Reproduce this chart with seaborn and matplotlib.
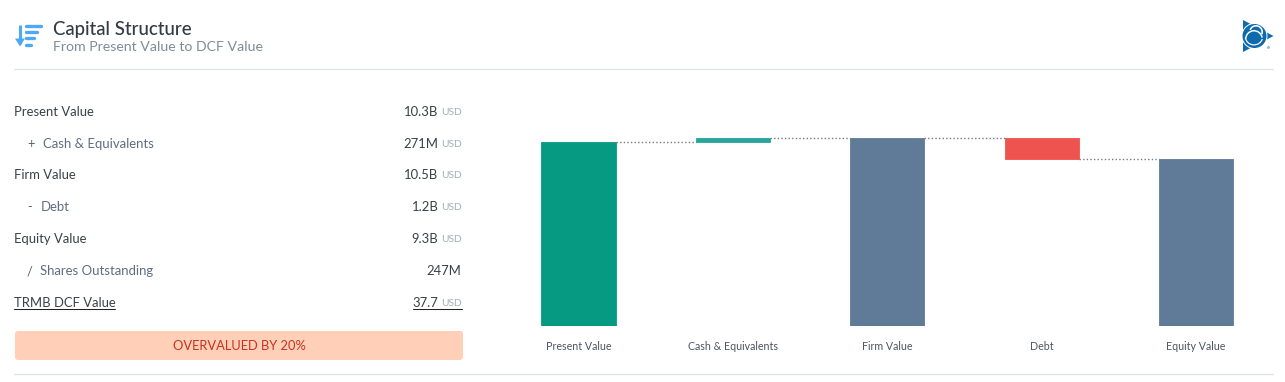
import numpy as np
import pandas as pd
import matplotlib
matplotlib.use('Agg')
import matplotlib.pyplot as plt
import seaborn as sns
from matplotlib.patches import FancyBboxPatch, Polygon, Circle, Wedge

# ==========================================
# DATA
# ==========================================
categories = ['Present Value', 'Cash & Equivalents', 'Firm Value', 'Debt', 'Equity Value']
bar_heights = [10.23, 0.27, 10.5, 1.2, 9.3]
bar_bottoms = [0, 10.23, 0, 9.3, 0]
bar_colors = ['#079A82', '#26A69A', '#607B98', '#EF5350', '#607B98']

row_labels = ['Present Value', 'Cash & Equivalents', 'Firm Value', 'Debt',
              'Equity Value', 'Shares Outstanding', 'TRMB DCF Value']
row_signs = ['', '+', '', '-', '', '/', '']
row_values = ['10.3B', '271M', '10.5B', '1.2B', '9.3B', '247M', '37.7']
row_units = ['USD', 'USD', 'USD', 'USD', 'USD', '', 'USD']

sns.set_theme(style='white')
plt.rcParams['font.family'] = ['Lato', 'DejaVu Sans']

W, H = 1285, 382
fig = plt.figure(figsize=(W / 100, H / 100), dpi=100, facecolor='white')

# panel in pixel coordinates
bg = fig.add_axes([0, 0, 1, 1])
bg.set_xlim(0, W)
bg.set_ylim(H, 0)
bg.axis('off')


def px(size):
    return size * 72 / 100


# header
bg.plot([14, 1273], [68.5, 68.5], color='#DFE1E3', lw=0.9)
bg.plot([14, 1273], [373.5, 373.5], color='#DFE1E3', lw=0.9)
bg.text(53, 29, 'Capital Structure', fontsize=px(18.6), color='#323A45', va='center', fontweight='medium')
bg.text(53, 47, 'From Present Value to DCF Value', fontsize=px(14.15), color='#7F8C99', va='center')

# sort icon
icon = '#4EA8F2'
bg.plot([20, 20], [25, 44], color=icon, lw=2.2, solid_capstyle='butt')
bg.add_patch(Polygon([[15, 38.5], [25, 38.5], [20, 46.5]], color=icon, lw=0))
for x0, x1, y in [(26, 40.5, 26), (26, 37, 32), (26, 33.5, 38), (26, 30.5, 44.5)]:
    bg.plot([x0, x1], [y, y], color=icon, lw=2.4, solid_capstyle='round')

# logo
logo = '#0D6AAD'
bg.add_patch(Polygon([[1243, 20], [1243, 52], [1273.5, 36]], color=logo, lw=0))
bg.add_patch(Circle((1254.5, 36), 13, color='white', lw=0, zorder=2))
bg.add_patch(Circle((1254.5, 36), 12, color=logo, lw=0, zorder=3))
bg.add_patch(Wedge((1256, 32), 7, 200, 20, width=1.6, color='white', lw=0, zorder=4))
bg.add_patch(Wedge((1254, 39), 9, 180, 350, width=1.5, color='white', lw=0, zorder=4))
bg.add_patch(Wedge((1254, 36), 9.5, 20, 170, width=1.2, color='white', lw=0, zorder=4))
bg.add_patch(Circle((1268.5, 47.5), 1.4, color='#8FB4D4', lw=0))

# table
row_y = [112, 144, 175, 207, 239, 271, 303]
for y, label, sign, value, unit in zip(row_y, row_labels, row_signs, row_values, row_units):
    sub = sign != ''
    if sub:
        bg.text(27, y, sign, fontsize=px(12.7), color='#55606C', va='center')
    label_x = 43 if sign == '+' else 40.5 if sign else 14
    bg.text(label_x, y, label, fontsize=px(13.1 if sub else 13.0), color='#5E6E80' if sub else '#3A4048', va='center')
    if unit:
        bg.text(461.5, y + 0.7, unit, fontsize=px(10.2), color='#A2ADBB', va='center', ha='right')
        bg.text(438.5, y, value, fontsize=px(13.0), color='#3A4048', va='center', ha='right')
    else:
        bg.text(461.5, y, value, fontsize=px(13.0), color='#3A4048', va='center', ha='right')

bg.plot([14, 115], [309, 309], color='#222222', lw=0.75)
bg.plot([413, 461.5], [309, 309], color='#222222', lw=0.75)

# banner
bg.add_patch(FancyBboxPatch((17, 333), 444, 25, boxstyle='round,pad=2,rounding_size=3',
                            facecolor='#FFCFB8', edgecolor='none'))
bg.text(239.5, 345.5, 'OVERVALUED BY 20%', fontsize=px(12.9), color='#C8321E', va='center', ha='center')

# waterfall
ax = fig.add_axes([501.25 / W, (H - 326) / H, 772 / W, 226 / H])
ax.patch.set_alpha(0)
df = pd.DataFrame({'category': categories, 'height': bar_heights})
sns.barplot(data=df, x='category', y='height', bottom=bar_bottoms, width=0.48,
            color=bar_colors[0], saturation=1, ax=ax)
for patch, color in zip(ax.patches, bar_colors):
    patch.set_facecolor(color)
    patch.set_edgecolor(color)
    patch.set_linewidth(0.6)
    patch.set_joinstyle('round')

# connectors between the bars
levels = [b + h for b, h in zip(bar_bottoms, bar_heights)]
levels[3] = bar_bottoms[3]
half = 0.48 / 2
for i in range(len(categories) - 1):
    ax.plot([i + half, i + 1 - half], [levels[i], levels[i]], color='#7A7A7A',
            lw=1.0, ls=(0, (1, 1.6)))

ax.set_xlim(-0.5, 4.5)
ax.set_ylim(0, 226 / 17.95)
ax.set_xlabel('')
ax.set_ylabel('')
ax.set_yticks([])
ax.tick_params(axis='x', length=0, pad=10.5, labelsize=px(10.6), labelcolor='#4A5561')
sns.despine(ax=ax, left=True, bottom=True)

fig.savefig('out.png', dpi=100)
